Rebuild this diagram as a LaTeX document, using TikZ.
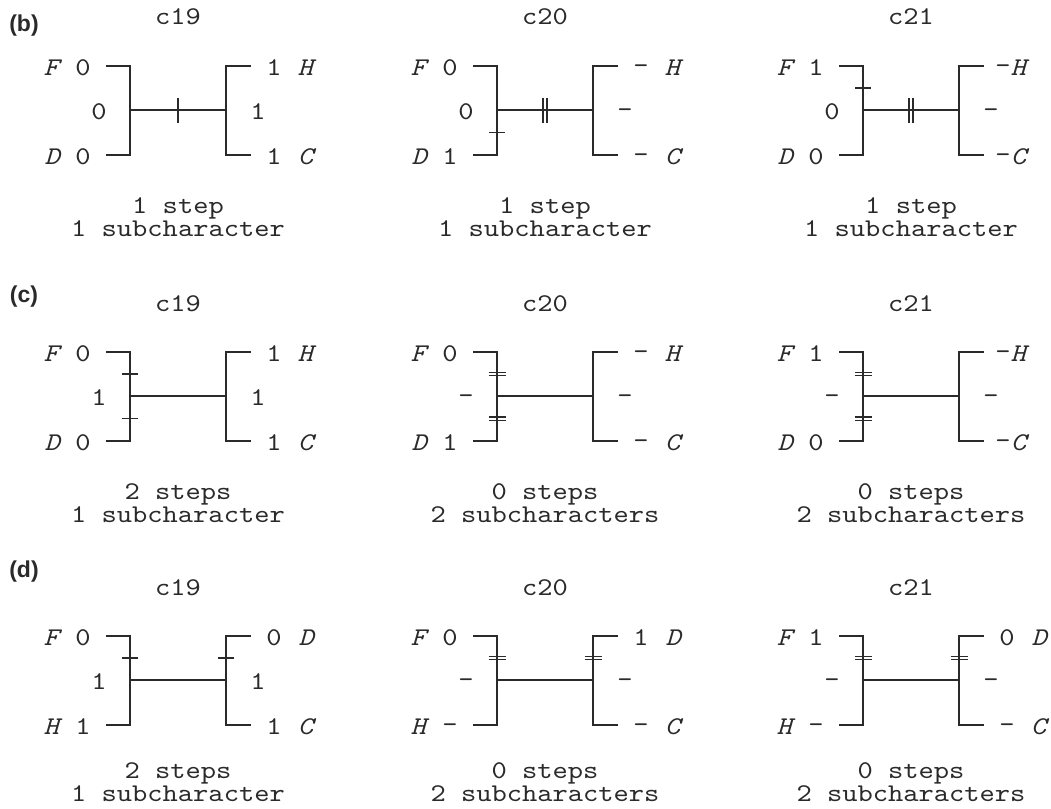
\documentclass[tikz,border=0pt]{standalone}
\usepackage{fontspec}
\newfontfamily\cour{lmmono10-regular.otf}[ItalicFont=lmmono10-italic.otf,FakeStretch=1.14]
\newfontfamily\panfont{Liberation Sans}
\definecolor{ink}{HTML}{2A2A2A}
\tikzset{
  br/.style={draw=ink,line width=1.6pt,line cap=rect},
  tk/.style={draw=ink,line width=1.4pt},
  lab/.style={inner sep=0pt,text=ink,font=\cour\fontsize{25.5}{25.5}\selectfont,anchor=base},
  txt/.style={inner sep=0pt,text=ink,font=\cour\fontsize{25.5}{24}\selectfont,anchor=base},
  captxt/.style={inner sep=0pt,text=ink,font=\cour\fontsize{25.5}{23.5}\selectfont,align=center,anchor=north},
  plab/.style={inner sep=0pt,text=ink,font=\panfont\bfseries\fontsize{23}{23}\selectfont}
}
\newcommand{\dsh}{\raisebox{2.3pt}{–}}
\newcommand{\skel}[2]{%
  \node[txt] (#1-title) at (178,25) {#2};
  \coordinate (#1-lt) at (107,66);
  \coordinate (#1-lT) at (130,66);
  \coordinate (#1-lM) at (130,110);
  \coordinate (#1-lB) at (130,155);
  \coordinate (#1-lb) at (107,155);
  \coordinate (#1-rT) at (226,66);
  \coordinate (#1-rM) at (226,110);
  \coordinate (#1-rB) at (226,155);
  \coordinate (#1-rt) at (250,66);
  \coordinate (#1-rb) at (250,155);
  \coordinate (#1-lu) at (130,88);
  \coordinate (#1-ld) at (130,132.5);
  \coordinate (#1-ru) at (226,88);
  \coordinate (#1-mm) at (178,110);
  \draw[br] (#1-lt) -- (#1-lT) -- (#1-lB) -- (#1-lb);
  \draw[br] (#1-rt) -- (#1-rT) -- (#1-rB) -- (#1-rb);
  \draw[br] (#1-lM) -- (#1-rM);
}
\newcommand{\leftlabs}[6]{%
  \node[lab] (#1-L1) at (53,75.5) {\textit{#2}};
  \node[lab] (#1-V1) at (83,75.5) {#3};
  \node[lab] (#1-V2) at (99,119.5) {#4};
  \node[lab] (#1-L3) at (53,164.5) {\textit{#5}};
  \node[lab] (#1-V3) at (83,164.5) {#6};
}
\newcommand{\rightlabs}[8]{%
  \node[lab] (#1-R1) at (#7,75.5) {#2};
  \node[lab] (#1-M1) at (#8,75.5) {\textit{#3}};
  \node[lab] (#1-R2) at (258,119.5) {#4};
  \node[lab] (#1-R3) at (#7,164.5) {#5};
  \node[lab] (#1-M3) at (#8,164.5) {\textit{#6}};
}
\newcommand{\capt}[3]{%
  \node[captxt] (#1-cap) at (178,#3) {#2};
}
\newcommand{\tkH}[1]{\draw[tk] ([xshift=-8pt]#1) -- ([xshift=8pt]#1);}
\newcommand{\tkHH}[1]{%
  \draw[tk] ([xshift=-8.5pt,yshift=1.7pt]#1) -- ([xshift=8.5pt,yshift=1.7pt]#1);
  \draw[tk] ([xshift=-8.5pt,yshift=-1.7pt]#1) -- ([xshift=8.5pt,yshift=-1.7pt]#1);}
\newcommand{\tkV}[1]{\draw[tk] ([yshift=-12.5pt]#1) -- ([yshift=12.5pt]#1);}
\newcommand{\tkVV}[1]{%
  \draw[tk] ([xshift=-2pt,yshift=-12.5pt]#1) -- ([xshift=-2pt,yshift=12.5pt]#1);
  \draw[tk] ([xshift=2pt,yshift=-12.5pt]#1) -- ([xshift=2pt,yshift=12.5pt]#1);}
\begin{document}
\begin{tikzpicture}[x=1pt,y=-1pt]
\useasboundingbox (0,0) rectangle (1051,808);
\node[plab] (pb) at (24,26) {(b)};
\node[plab] (pc) at (24,297) {(c)};
\node[plab] (pd) at (24,572) {(d)};
% ---------- row (b)
\begin{scope}[shift={(0,0)}]
  \skel{b19}{c19}
  \leftlabs{b19}{F}{0}{0}{D}{0}
  \rightlabs{b19}{1}{H}{1}{1}{C}{274}{307}
  \tkV{b19-mm}
  \capt{b19}{1 step\\1 subcharacter}{197}
\end{scope}
\begin{scope}[shift={(367,0)}]
  \skel{b20}{c20}
  \leftlabs{b20}{F}{0}{0}{D}{1}
  \rightlabs{b20}{\dsh}{H}{\dsh}{\dsh}{C}{274}{307}
  \tkVV{b20-mm}
  \tkH{b20-ld}
  \capt{b20}{1 step\\1 subcharacter}{197}
\end{scope}
\begin{scope}[shift={(733,0)}]
  \skel{b21}{c21}
  \leftlabs{b21}{F}{1}{0}{D}{0}
  \rightlabs{b21}{\dsh}{H}{\dsh}{\dsh}{C}{270}{287}
  \tkVV{b21-mm}
  \tkH{b21-lu}
  \capt{b21}{1 step\\1 subcharacter}{197}
\end{scope}
% ---------- row (c)
\begin{scope}[shift={(0,286)}]
  \skel{c19}{c19}
  \leftlabs{c19}{F}{0}{1}{D}{0}
  \rightlabs{c19}{1}{H}{1}{1}{C}{274}{307}
  \tkH{c19-lu}
  \tkH{c19-ld}
  \capt{c19}{2 steps\\1 subcharacter}{197}
\end{scope}
\begin{scope}[shift={(367,286)}]
  \skel{c20}{c20}
  \leftlabs{c20}{F}{0}{\dsh}{D}{1}
  \rightlabs{c20}{\dsh}{H}{\dsh}{\dsh}{C}{274}{307}
  \tkHH{c20-lu}
  \tkHH{c20-ld}
  \capt{c20}{0 steps\\2 subcharacters}{197}
\end{scope}
\begin{scope}[shift={(733,286)}]
  \skel{c21}{c21}
  \leftlabs{c21}{F}{1}{\dsh}{D}{0}
  \rightlabs{c21}{\dsh}{H}{\dsh}{\dsh}{C}{270}{287}
  \tkHH{c21-lu}
  \tkHH{c21-ld}
  \capt{c21}{0 steps\\2 subcharacters}{197}
\end{scope}
% ---------- row (d)
\begin{scope}[shift={(0,570)}]
  \skel{d19}{c19}
  \leftlabs{d19}{F}{0}{1}{H}{1}
  \rightlabs{d19}{0}{D}{1}{1}{C}{274}{307}
  \tkH{d19-lu}
  \tkH{d19-ru}
  \capt{d19}{2 steps\\1 subcharacter}{192}
\end{scope}
\begin{scope}[shift={(367,570)}]
  \skel{d20}{c20}
  \leftlabs{d20}{F}{0}{\dsh}{H}{\dsh}
  \rightlabs{d20}{1}{D}{\dsh}{\dsh}{C}{274}{307}
  \tkHH{d20-lu}
  \tkHH{d20-ru}
  \capt{d20}{0 steps\\2 subcharacters}{192}
\end{scope}
\begin{scope}[shift={(733,570)}]
  \skel{d21}{c21}
  \leftlabs{d21}{F}{1}{\dsh}{H}{\dsh}
  \rightlabs{d21}{0}{D}{\dsh}{\dsh}{C}{274}{307}
  \tkHH{d21-lu}
  \tkHH{d21-ru}
  \capt{d21}{0 steps\\2 subcharacters}{192}
\end{scope}
\end{tikzpicture}
\end{document}
